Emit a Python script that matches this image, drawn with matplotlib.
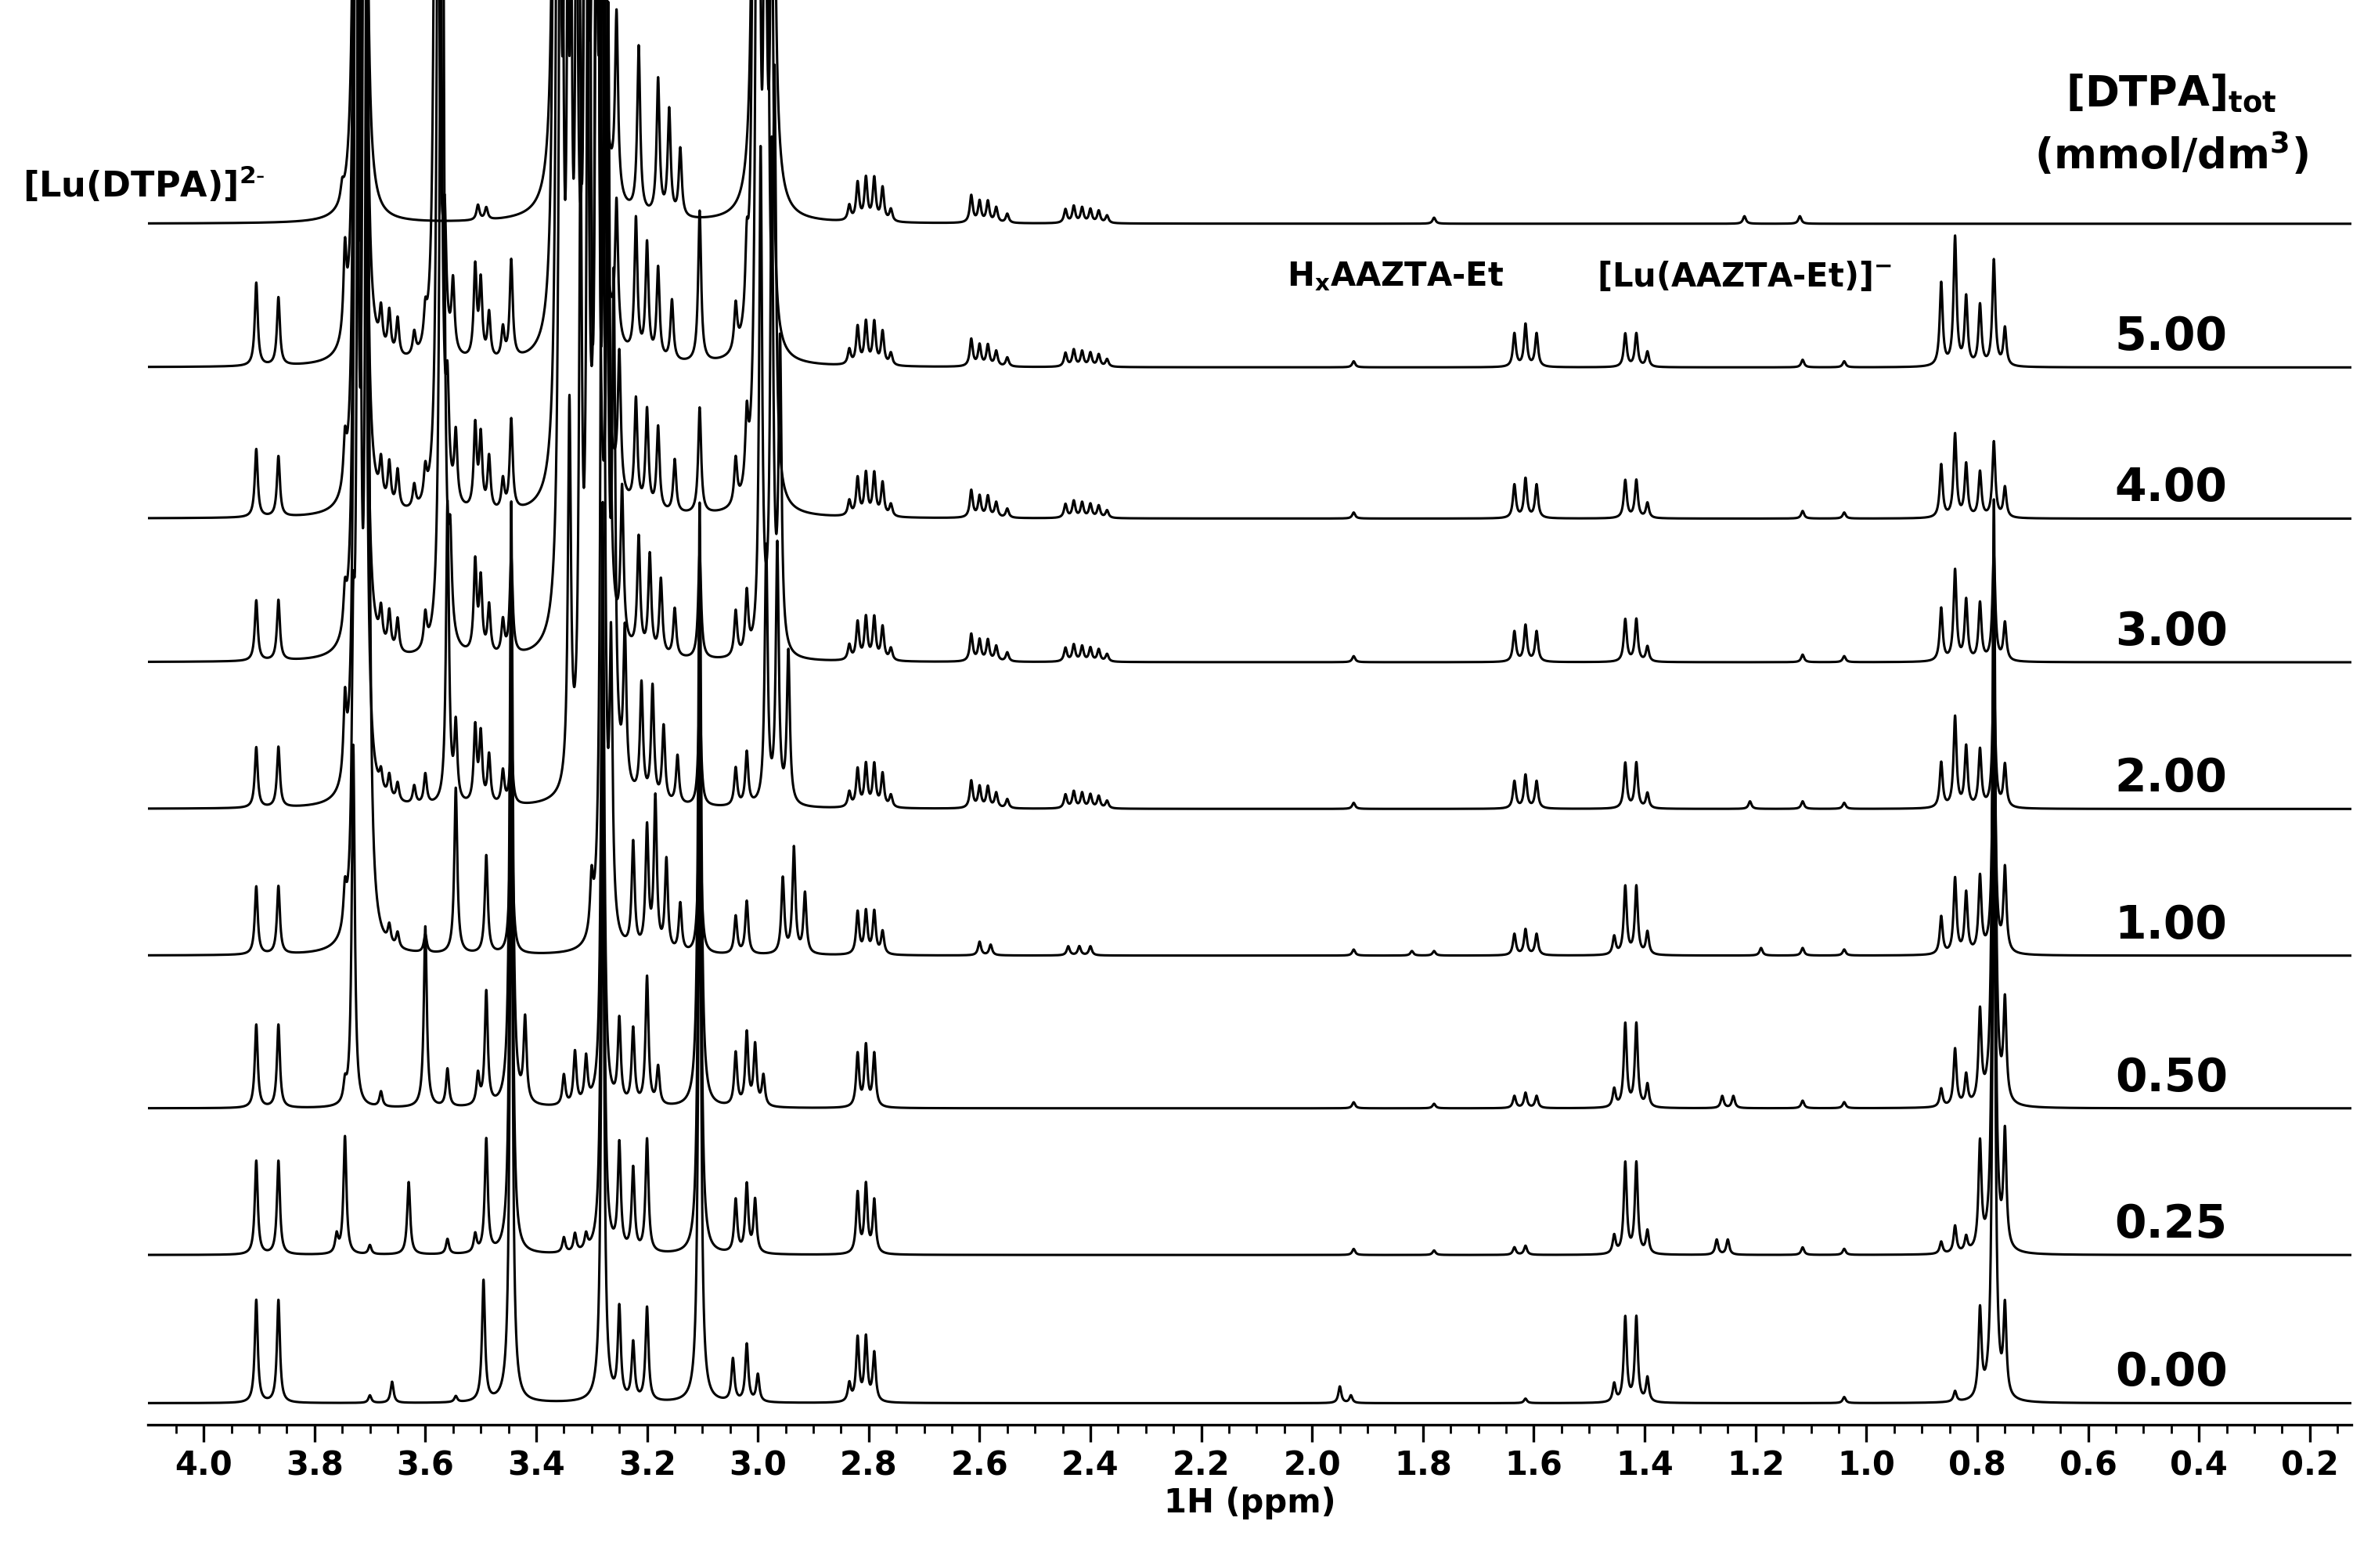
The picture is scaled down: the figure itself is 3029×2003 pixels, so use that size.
import numpy as np
import matplotlib.pyplot as plt

# peak lists: (ppm, height in px of the stacked plot)
dtpa_labels = ["5.00", "4.00", "3.00", "2.00", "1.00", "0.50", "0.25", "0.00"]
baselines = [148, 243, 343, 438, 535, 632, 733, 830, 928]  # px from top, first = [Lu(DTPA)]2-

mult_28 = [(2.835, 10), (2.82, 25), (2.805, 28), (2.79, 28), (2.775, 22), (2.76, 8)]
mult_26 = [(2.615, 18), (2.6, 14), (2.585, 14), (2.57, 10), (2.55, 6)]
mult_24 = [(2.445, 9), (2.43, 11), (2.415, 10), (2.40, 9), (2.385, 8), (2.37, 5)]

trace_lu = [(3.75, 10), (3.505, 10), (3.49, 8), (3.725, 900), (3.71, 900), (3.365, 900),
            (3.35, 900), (3.33, 900), (3.315, 900), (3.30, 900), (3.285, 900), (3.255, 120),
            (3.215, 110), (3.18, 90), (3.16, 70), (3.14, 45), (3.005, 900), (2.99, 900),
            (2.975, 900)] + mult_28 + mult_26 + mult_24 + [(1.78, 4), (1.22, 5), (1.12, 5)]

trace_500 = [(3.905, 55), (3.865, 45), (3.745, 55), (3.725, 900), (3.71, 900), (3.68, 25),
             (3.665, 28), (3.65, 25), (3.62, 15), (3.60, 20), (3.58, 900), (3.565, 70),
             (3.55, 45), (3.51, 60), (3.50, 50), (3.485, 30), (3.46, 20), (3.445, 65),
             (3.365, 900), (3.35, 900), (3.33, 900), (3.315, 900), (3.30, 900), (3.285, 900),
             (3.255, 90), (3.22, 90), (3.20, 75), (3.18, 60), (3.155, 40), (3.105, 100),
             (3.04, 30), (3.02, 45), (3.005, 900), (2.99, 900), (2.975, 300)] + \
            mult_28 + mult_26 + mult_24 + \
            [(1.925, 4), (1.635, 22), (1.615, 28), (1.595, 22), (1.435, 22), (1.415, 22),
             (1.395, 10), (1.115, 5), (1.04, 4), (0.865, 55), (0.84, 85), (0.82, 45),
             (0.795, 40), (0.77, 70), (0.75, 25)]

trace_400 = [(3.905, 45), (3.865, 40), (3.745, 30), (3.725, 900), (3.71, 900), (3.68, 25),
             (3.665, 28), (3.65, 25), (3.62, 15), (3.60, 20), (3.575, 900), (3.56, 60),
             (3.545, 45), (3.51, 55), (3.50, 48), (3.485, 35), (3.46, 20), (3.445, 60),
             (3.36, 900), (3.345, 900), (3.33, 900), (3.31, 900), (3.295, 900), (3.28, 900),
             (3.25, 90), (3.22, 70), (3.20, 65), (3.18, 55), (3.15, 35), (3.105, 70),
             (3.04, 30), (3.02, 45), (3.0, 900), (2.985, 900), (2.97, 250)] + \
            mult_28 + mult_26 + mult_24 + \
            [(1.925, 4), (1.635, 22), (1.615, 26), (1.595, 22), (1.435, 25), (1.415, 25),
             (1.395, 10), (1.115, 5), (1.04, 4), (0.865, 35), (0.84, 55), (0.82, 35),
             (0.795, 30), (0.77, 50), (0.75, 20)]

trace_300 = [(3.905, 40), (3.865, 40), (3.745, 25), (3.725, 900), (3.71, 900), (3.68, 22),
             (3.665, 25), (3.65, 22), (3.60, 22), (3.57, 900), (3.555, 55), (3.51, 60),
             (3.50, 48), (3.485, 32), (3.46, 22), (3.445, 65), (3.355, 900), (3.34, 900),
             (3.325, 900), (3.31, 900), (3.29, 900), (3.27, 400), (3.245, 100), (3.215, 75),
             (3.195, 65), (3.175, 50), (3.15, 32), (3.105, 70), (3.04, 30), (3.02, 40),
             (2.995, 330), (2.975, 330), (2.96, 200)] + \
            mult_28 + mult_26 + mult_24 + \
            [(1.925, 4), (1.635, 20), (1.615, 24), (1.595, 20), (1.435, 28), (1.415, 28),
             (1.395, 10), (1.115, 5), (1.04, 4), (0.865, 35), (0.84, 60), (0.82, 40),
             (0.795, 38), (0.77, 70), (0.75, 25)]

trace_200 = [(3.905, 40), (3.865, 40), (3.745, 50), (3.725, 900), (3.71, 900), (3.68, 12),
             (3.665, 15), (3.65, 12), (3.62, 12), (3.60, 20), (3.56, 200), (3.545, 50),
             (3.51, 50), (3.50, 45), (3.485, 32), (3.46, 22), (3.445, 40), (3.34, 250),
             (3.32, 380), (3.305, 900), (3.29, 900), (3.275, 900), (3.26, 300), (3.24, 100),
             (3.21, 75), (3.19, 75), (3.17, 50), (3.145, 32), (3.105, 70), (3.04, 25),
             (3.02, 35), (2.985, 170), (2.965, 170), (2.945, 100)] + \
            mult_28 + mult_26 + mult_24 + \
            [(1.925, 4), (1.635, 18), (1.615, 22), (1.595, 18), (1.435, 30), (1.415, 30),
             (1.395, 10), (1.21, 5), (1.115, 5), (1.04, 4), (0.865, 30), (0.84, 60),
             (0.82, 40), (0.795, 38), (0.77, 85), (0.75, 28)]

trace_100 = [(3.905, 45), (3.865, 45), (3.745, 25), (3.73, 150), (3.72, 900), (3.705, 900),
             (3.665, 12), (3.65, 10), (3.60, 12), (3.545, 110), (3.49, 65), (3.445, 110),
             (3.30, 35), (3.28, 900), (3.265, 180), (3.225, 70), (3.20, 80), (3.185, 100),
             (3.165, 60), (3.14, 32), (3.105, 110), (3.04, 25), (3.02, 35), (2.955, 50),
             (2.935, 70), (2.915, 40)] + \
            [(2.82, 28), (2.805, 28), (2.79, 28), (2.775, 15), (2.6, 9), (2.58, 7),
             (2.44, 6), (2.42, 6), (2.40, 6)] + \
            [(1.925, 4), (1.82, 3), (1.78, 3), (1.635, 14), (1.615, 17), (1.595, 14),
             (1.455, 12), (1.435, 45), (1.415, 45), (1.395, 15), (1.19, 5), (1.115, 5),
             (1.04, 4), (0.865, 25), (0.84, 50), (0.82, 40), (0.795, 50), (0.77, 180),
             (0.75, 55)]

trace_050 = [(3.905, 55), (3.865, 55), (3.745, 12), (3.73, 240), (3.68, 10), (3.60, 120),
             (3.56, 25), (3.505, 20), (3.49, 75), (3.445, 400), (3.42, 55), (3.35, 20),
             (3.33, 35), (3.31, 30), (3.28, 400), (3.25, 55), (3.225, 50), (3.20, 85),
             (3.18, 25), (3.105, 400), (3.04, 35), (3.02, 48), (3.005, 40), (2.99, 20),
             (2.82, 35), (2.805, 40), (2.79, 35), (1.925, 4), (1.78, 3), (1.635, 8),
             (1.615, 10), (1.595, 8), (1.455, 12), (1.435, 55), (1.415, 55), (1.395, 15),
             (1.26, 8), (1.24, 8), (1.115, 5), (1.04, 4), (0.865, 12), (0.84, 38),
             (0.82, 20), (0.795, 60), (0.77, 400), (0.75, 65)]

trace_025 = [(3.905, 62), (3.865, 62), (3.76, 12), (3.745, 78), (3.70, 6), (3.63, 48),
             (3.56, 10), (3.51, 12), (3.49, 75), (3.445, 400), (3.35, 10), (3.33, 12),
             (3.31, 10), (3.28, 400), (3.25, 70), (3.225, 55), (3.20, 75), (3.105, 400),
             (3.04, 35), (3.02, 45), (3.005, 35), (2.82, 40), (2.805, 45), (2.79, 35),
             (1.925, 4), (1.78, 3), (1.635, 5), (1.615, 6), (1.455, 12), (1.435, 60),
             (1.415, 60), (1.395, 15), (1.27, 10), (1.25, 10), (1.115, 5), (1.04, 4),
             (0.865, 8), (0.84, 18), (0.82, 10), (0.795, 70), (0.77, 400), (0.75, 75)]

trace_000 = [(3.905, 68), (3.865, 68), (3.70, 5), (3.66, 14), (3.545, 4), (3.495, 80),
             (3.445, 400), (3.28, 400), (3.25, 60), (3.225, 38), (3.20, 62), (3.105, 400),
             (3.045, 28), (3.02, 38), (3.0, 18), (2.835, 12), (2.82, 42), (2.805, 42),
             (2.79, 32), (1.95, 11), (1.93, 5), (1.615, 3), (1.455, 12), (1.435, 56),
             (1.415, 56), (1.395, 16), (1.04, 4), (0.84, 7), (0.795, 58), (0.77, 400),
             (0.75, 58)]

traces = [trace_lu, trace_500, trace_400, trace_300, trace_200, trace_100,
          trace_050, trace_025, trace_000]

H = 1037  # px height of the reference frame
ppm = np.linspace(4.15, 0.1, 12000)
hw = 0.0032


def spectrum(peaks):
    y = np.zeros_like(ppm)
    for c, h in peaks:
        y += h / (1 + ((ppm - c) / hw) ** 2)
    return y


fig = plt.figure(figsize=(15.145, 10.015), dpi=200)
ax = fig.add_axes([98 / 1568, 1 - 942 / H, (1555 - 98) / 1568, 942 / H])
for base, peaks in zip(baselines, traces):
    ax.plot(ppm, (H - base) + spectrum(peaks), color="black", lw=1.1)

ax.set_xlim(4.1, 0.125)
ax.set_ylim(H - 942, H)
for s in ["left", "right", "top"]:
    ax.spines[s].set_visible(False)
ax.spines["bottom"].set_linewidth(1.2)
ax.set_yticks([])
ax.set_xticks(np.arange(0.2, 4.01, 0.2))
ax.set_xticklabels([f"{v:.1f}" for v in np.arange(0.2, 4.01, 0.2)])
ax.set_xticks(np.arange(0.15, 4.1, 0.05), minor=True)
ax.tick_params(axis="x", which="major", length=8, width=1.2, labelsize=15)
ax.tick_params(axis="x", which="minor", length=4, width=1)
for t in ax.get_xticklabels():
    t.set_fontweight("bold")
ax.set_xlabel("1H (ppm)", fontsize=15, fontweight="bold", labelpad=2)

for lab, base in zip(dtpa_labels, baselines[1:]):
    ax.text(0.45, H - base + 20, lab, fontsize=21, fontweight="bold", ha="center", va="center")

ax.text(0.45, H - 62, "[DTPA]$_\\mathbf{tot}$", fontsize=19, fontweight="bold",
        ha="center", va="center", clip_on=False)
ax.text(0.45, H - 102, "(mmol/dm$^\\mathbf{3}$)", fontsize=19, fontweight="bold",
        ha="center", va="center", clip_on=False)
fig.text(15 / 1568, 1 - 122 / H, "[Lu(DTPA)]$^\\mathbf{2\\text{-}}$", fontsize=16,
         fontweight="bold", va="center")
ax.text(1.85, H - 183, "H$_\\mathbf{x}$AAZTA-Et", fontsize=15, fontweight="bold",
        ha="center", va="center")
ax.text(1.22, H - 183, "[Lu(AAZTA-Et)]$^\\mathbf{-}$", fontsize=15, fontweight="bold",
        ha="center", va="center")

fig.savefig("out.png", dpi=200)
